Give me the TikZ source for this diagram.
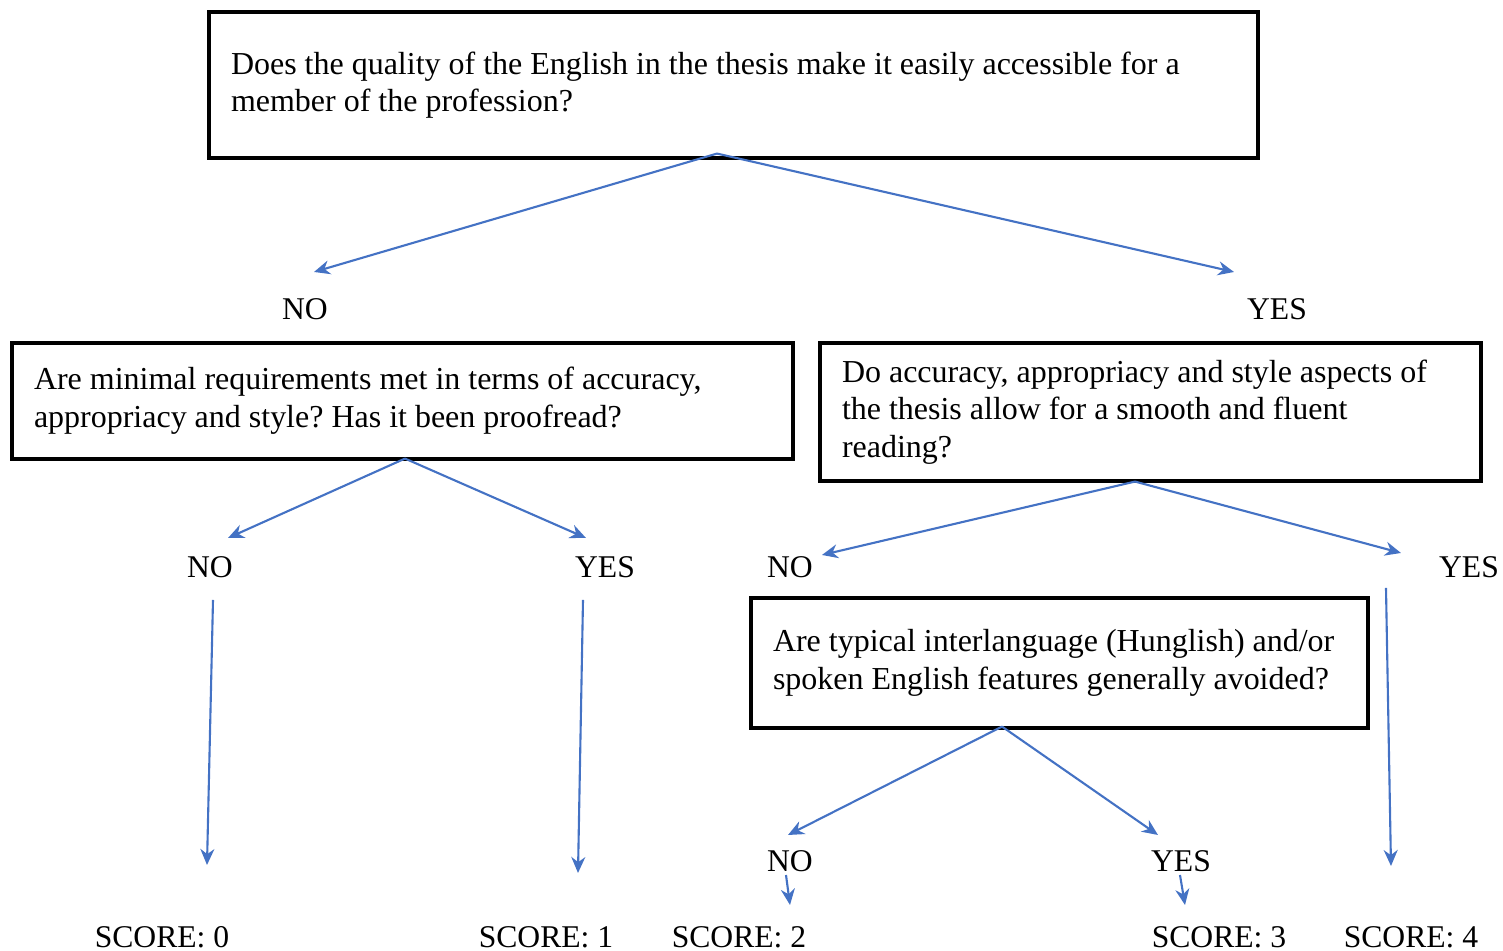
\documentclass[tikz,border=0pt]{standalone}
\usepackage{fontspec}
\setmainfont{Liberation Serif}
\usetikzlibrary{arrows.meta}
\definecolor{flowblue}{RGB}{68,114,196}
\frenchspacing
\tikzset{
    % boxes holding the questions
    question/.style={draw, rectangle, line width=0.9pt, align=flush left,
                     inner xsep=2.2mm, inner ysep=0pt,
                     font=\fontsize{9.1pt}{10.7pt}\selectfont},
    % NO / YES / SCORE labels
    answer/.style={inner sep=1pt, font=\fontsize{9pt}{10.7pt}\selectfont},
    flow/.style={draw=flowblue, line width=0.6pt,
                 -{Stealth[length=1.6mm,width=1.4mm]}}
}
\begin{document}
\begin{tikzpicture}
    \useasboundingbox (0,0) rectangle (15.03,-9.51);
    % questions
    \node[question, text width=10.05cm, minimum height=1.46cm] (q1) at (7.335,-0.85)
        {Does the quality of the English in the thesis make it easily accessible for a\\member of the profession?};
    \node[question, text width=7.37cm, minimum height=1.16cm] (q2) at (4.025,-4.01)
        {Are minimal requirements met in terms of accuracy,\\appropriacy and style? Has it been proofread?};
    \node[question, text width=6.17cm, minimum height=1.38cm] (q3) at (11.505,-4.12)
        {Do accuracy, appropriacy and style aspects of\\the thesis allow for a smooth and fluent\\reading?};
    \node[question, text width=5.73cm, minimum height=1.30cm] (q4) at (10.595,-6.63)
        {Are typical interlanguage (Hunglish) and/or\\spoken English features generally avoided?};
    % answers
    \node[answer] (no1) at (3.05,-3.09) {NO};
    \node[answer] (yes1) at (12.77,-3.09) {YES};
    \node[answer] (no2) at (2.10,-5.67) {NO};
    \node[answer] (yes2) at (6.05,-5.67) {YES};
    \node[answer] (no3) at (7.90,-5.67) {NO};
    \node[answer] (yes3) at (14.69,-5.67) {YES};
    \node[answer] (no4) at (7.90,-8.61) {NO};
    \node[answer] (yes4) at (11.81,-8.61) {YES};
    % scores
    \node[answer] (s0) at (1.62,-9.37) {SCORE: 0};
    \node[answer] (s1) at (5.46,-9.37) {SCORE: 1};
    \node[answer] (s2) at (7.39,-9.37) {SCORE: 2};
    \node[answer] (s3) at (12.19,-9.37) {SCORE: 3};
    \node[answer] (s4) at (14.11,-9.37) {SCORE: 4};
    % connectors
    \draw[flow] ([shift={(-0.165,0.06)}]q1.south) -- ([shift={(0.09,0.37)}]no1.center);
    \draw[flow] ([shift={(-0.165,0.06)}]q1.south) -- ([shift={(-0.43,0.37)}]yes1.center);
    \draw[flow] ([shift={(0.025,0.02)}]q2.south) -- ([shift={(0.18,0.29)}]no2.center);
    \draw[flow] ([shift={(0.025,0.02)}]q2.south) -- ([shift={(-0.19,0.29)}]yes2.center);
    \draw[flow] ([shift={(-0.155,0.01)}]q3.south) -- ([shift={(0.32,0.12)}]no3.center);
    \draw[flow] ([shift={(-0.155,0.01)}]q3.south) -- ([shift={(-0.68,0.14)}]yes3.center);
    \draw[flow] ([shift={(-0.575,0.03)}]q4.south) -- ([shift={(-0.02,0.26)}]no4.center);
    \draw[flow] ([shift={(-0.575,0.03)}]q4.south) -- ([shift={(-0.23,0.26)}]yes4.center);
    \draw[flow] ([shift={(0.03,-0.33)}]no2.center) -- ([shift={(0.45,0.72)}]s0.center);
    \draw[flow] ([shift={(-0.22,-0.33)}]yes2.center) -- ([shift={(0.32,0.64)}]s1.center);
    \draw[flow] ([shift={(-0.83,-0.21)}]yes3.center) -- ([shift={(-0.20,0.71)}]s4.center);
    \draw[flow] ([shift={(-0.04,-0.14)}]no4.center) -- ([shift={(0.51,0.32)}]s2.center);
    \draw[flow] ([shift={(-0.01,-0.14)}]yes4.center) -- ([shift={(-0.34,0.32)}]s3.center);
\end{tikzpicture}
\end{document}
